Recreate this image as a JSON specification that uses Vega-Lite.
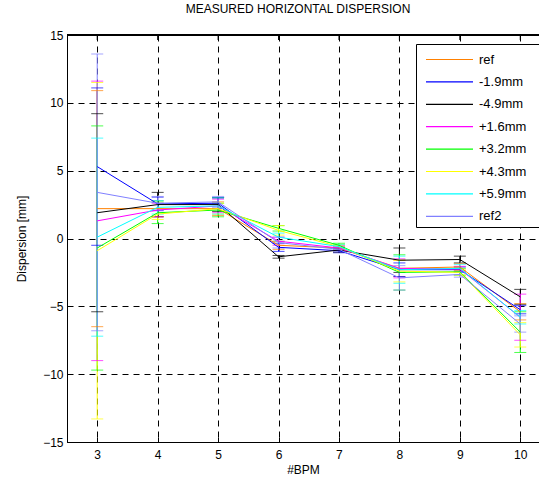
{
  "$schema": "https://vega.github.io/schema/vega-lite/v6.json",
  "width": 472,
  "height": 407,
  "autosize": {"type": "none"},
  "padding": {"left": 67, "top": 35, "right": 0, "bottom": 39},
  "background": "white",
  "title": {"text": "MEASURED HORIZONTAL DISPERSION", "font": "Liberation Sans", "fontSize": 12, "fontWeight": "normal", "color": "black", "offset": 13, "dx": -5},
  "config": {
    "view": {"stroke": "black", "strokeWidth": 1},
    "axis": {
      "domainColor": "black", "tickColor": "black", "labelColor": "black", "titleColor": "black",
      "labelFont": "Liberation Sans", "titleFont": "Liberation Sans", "labelFontSize": 12, "titleFontSize": 12,
      "titleFontWeight": "normal", "gridColor": "black", "gridDash": [6, 5], "gridOpacity": 1, "gridWidth": 1,
      "tickSize": 5
    },
    "legend": {"labelFont": "Liberation Sans", "labelFontSize": 13, "labelColor": "black"}
  },
  "datasets": {
    "top": [{"bpm": 3, "edge": 15}, {"bpm": 4, "edge": 15}, {"bpm": 5, "edge": 15}, {"bpm": 6, "edge": 15}, {"bpm": 7, "edge": 15}, {"bpm": 8, "edge": 15}, {"bpm": 9, "edge": 15}, {"bpm": 10, "edge": 15}]
  },
  "data": {"values": [
    {"bpm": 3, "series": "ref", "y": 2.2, "lo": -6.5, "hi": 10.9},
    {"bpm": 4, "series": "ref", "y": 2.2, "lo": 1.6, "hi": 2.8},
    {"bpm": 5, "series": "ref", "y": 2.2, "lo": 1.7, "hi": 2.7},
    {"bpm": 6, "series": "ref", "y": -0.5, "lo": -0.8, "hi": -0.2},
    {"bpm": 7, "series": "ref", "y": -0.7, "lo": -0.85, "hi": -0.55},
    {"bpm": 8, "series": "ref", "y": -2.2, "lo": -2.8, "hi": -1.6},
    {"bpm": 9, "series": "ref", "y": -2.1, "lo": -2.35, "hi": -1.85},
    {"bpm": 10, "series": "ref", "y": -5.4, "lo": -6.0, "hi": -4.8},
    {"bpm": 3, "series": "-1.9mm", "y": 5.3, "lo": -0.5, "hi": 11.1},
    {"bpm": 4, "series": "-1.9mm", "y": 2.55, "lo": 2.05, "hi": 3.05},
    {"bpm": 5, "series": "-1.9mm", "y": 2.6, "lo": 2.2, "hi": 3.0},
    {"bpm": 6, "series": "-1.9mm", "y": -0.65, "lo": -0.95, "hi": -0.35},
    {"bpm": 7, "series": "-1.9mm", "y": -0.9, "lo": -1.05, "hi": -0.75},
    {"bpm": 8, "series": "-1.9mm", "y": -2.3, "lo": -2.8, "hi": -1.8},
    {"bpm": 9, "series": "-1.9mm", "y": -2.3, "lo": -2.5, "hi": -2.1},
    {"bpm": 10, "series": "-1.9mm", "y": -5.25, "lo": -5.55, "hi": -4.95},
    {"bpm": 3, "series": "-4.9mm", "y": 1.9, "lo": -5.4, "hi": 9.2},
    {"bpm": 4, "series": "-4.9mm", "y": 2.5, "lo": 1.6, "hi": 3.4},
    {"bpm": 5, "series": "-4.9mm", "y": 2.5, "lo": 2.0, "hi": 3.0},
    {"bpm": 6, "series": "-4.9mm", "y": -1.35, "lo": -1.45, "hi": -1.25},
    {"bpm": 7, "series": "-4.9mm", "y": -0.85, "lo": -1.0, "hi": -0.7},
    {"bpm": 8, "series": "-4.9mm", "y": -1.6, "lo": -2.5, "hi": -0.7},
    {"bpm": 9, "series": "-4.9mm", "y": -1.55, "lo": -1.8, "hi": -1.3},
    {"bpm": 10, "series": "-4.9mm", "y": -4.3, "lo": -4.85, "hi": -3.75},
    {"bpm": 3, "series": "+1.6mm", "y": 1.3, "lo": -9.0, "hi": 11.6},
    {"bpm": 4, "series": "+1.6mm", "y": 2.1, "lo": 1.6, "hi": 2.6},
    {"bpm": 5, "series": "+1.6mm", "y": 2.4, "lo": 1.9, "hi": 2.9},
    {"bpm": 6, "series": "+1.6mm", "y": -0.2, "lo": -0.5, "hi": 0.1},
    {"bpm": 7, "series": "+1.6mm", "y": -0.7, "lo": -0.85, "hi": -0.55},
    {"bpm": 8, "series": "+1.6mm", "y": -2.2, "lo": -2.9, "hi": -1.5},
    {"bpm": 9, "series": "+1.6mm", "y": -2.25, "lo": -2.45, "hi": -2.05},
    {"bpm": 10, "series": "+1.6mm", "y": -5.8, "lo": -7.5, "hi": -4.1},
    {"bpm": 3, "series": "+3.2mm", "y": -0.7, "lo": -9.7, "hi": 8.3},
    {"bpm": 4, "series": "+3.2mm", "y": 1.9, "lo": 1.1, "hi": 2.7},
    {"bpm": 5, "series": "+3.2mm", "y": 2.1, "lo": 1.6, "hi": 2.6},
    {"bpm": 6, "series": "+3.2mm", "y": 0.75, "lo": 0.55, "hi": 0.95},
    {"bpm": 7, "series": "+3.2mm", "y": -0.5, "lo": -0.65, "hi": -0.35},
    {"bpm": 8, "series": "+3.2mm", "y": -2.5, "lo": -3.8, "hi": -1.2},
    {"bpm": 9, "series": "+3.2mm", "y": -2.45, "lo": -2.7, "hi": -2.2},
    {"bpm": 10, "series": "+3.2mm", "y": -6.9, "lo": -8.4, "hi": -5.4},
    {"bpm": 3, "series": "+4.3mm", "y": -0.9, "lo": -13.3, "hi": 11.5},
    {"bpm": 4, "series": "+4.3mm", "y": 1.8, "lo": 1.4, "hi": 2.2},
    {"bpm": 5, "series": "+4.3mm", "y": 2.2, "lo": 1.8, "hi": 2.6},
    {"bpm": 6, "series": "+4.3mm", "y": 0.6, "lo": 0.25, "hi": 0.95},
    {"bpm": 7, "series": "+4.3mm", "y": -0.6, "lo": -0.75, "hi": -0.45},
    {"bpm": 8, "series": "+4.3mm", "y": -2.4, "lo": -3.2, "hi": -1.6},
    {"bpm": 9, "series": "+4.3mm", "y": -2.5, "lo": -2.7, "hi": -2.3},
    {"bpm": 10, "series": "+4.3mm", "y": -7.1, "lo": -8.0, "hi": -6.2},
    {"bpm": 3, "series": "+5.9mm", "y": 0.1, "lo": -7.2, "hi": 7.4},
    {"bpm": 4, "series": "+5.9mm", "y": 2.3, "lo": 1.8, "hi": 2.8},
    {"bpm": 5, "series": "+5.9mm", "y": 2.4, "lo": 1.8, "hi": 3.0},
    {"bpm": 6, "series": "+5.9mm", "y": 0.1, "lo": -0.2, "hi": 0.4},
    {"bpm": 7, "series": "+5.9mm", "y": -0.6, "lo": -0.75, "hi": -0.45},
    {"bpm": 8, "series": "+5.9mm", "y": -2.3, "lo": -3.3, "hi": -1.3},
    {"bpm": 9, "series": "+5.9mm", "y": -2.2, "lo": -2.5, "hi": -1.9},
    {"bpm": 10, "series": "+5.9mm", "y": -5.8, "lo": -6.3, "hi": -5.3},
    {"bpm": 3, "series": "ref2", "y": 3.4, "lo": -6.8, "hi": 13.6},
    {"bpm": 4, "series": "ref2", "y": 2.6, "lo": 2.1, "hi": 3.1},
    {"bpm": 5, "series": "ref2", "y": 2.7, "lo": 2.3, "hi": 3.1},
    {"bpm": 6, "series": "ref2", "y": -0.3, "lo": -0.7, "hi": 0.1},
    {"bpm": 7, "series": "ref2", "y": -0.8, "lo": -0.95, "hi": -0.65},
    {"bpm": 8, "series": "ref2", "y": -2.9, "lo": -3.8, "hi": -2.0},
    {"bpm": 9, "series": "ref2", "y": -2.65, "lo": -2.85, "hi": -2.45},
    {"bpm": 10, "series": "ref2", "y": -6.3, "lo": -6.9, "hi": -5.7}
  ]},
  "layer": [
    {
      "mark": {"type": "rule", "strokeWidth": 1},
      "encoding": {
        "x": {"field": "bpm", "type": "quantitative", "title": "#BPM",
              "scale": {"domain": [2.5, 10.31], "nice": false, "zero": false},
              "axis": {"values": [3,4,5,6,7,8,9,10], "format": "d", "tickSize": -5, "labelPadding": 12, "titlePadding": 4, "grid": true}},
        "y": {"field": "lo", "type": "quantitative", "scale": {"domain": [-15, 15], "nice": false}, "title": "Dispersion [mm]",
              "axis": {"values": [-15,-10,-5,0,5,10,15], "format": "d", "tickSize": -5, "labelPadding": 9, "titlePadding": 14, "grid": true}},
        "y2": {"field": "hi"},
        "color": {"field": "series", "type": "nominal", "sort": null,
                  "scale": {"domain": ["ref", "-1.9mm", "-4.9mm", "+1.6mm", "+3.2mm", "+4.3mm", "+5.9mm", "ref2"],
                            "range": ["#FF8000", "#0000FF", "#000000", "#FF00FF", "#00FF00", "#FFFF00", "#00FFFF", "#8080FF"]},
                  "legend": {"orient": "none", "legendX": 349, "legendY": 9, "title": null, "symbolType": "M-2,0H2M8.5,0",
                             "symbolSize": 552, "symbolStrokeWidth": 1.2, "symbolOffset": 18, "strokeColor": "black", "fillColor": "white",
                             "padding": 3, "rowPadding": 2.4, "labelOffset": 17,
                             "encode": {"symbols": {"update": {"stroke": {"scale": "color", "field": "value"}, "fill": {"value": "transparent"}, "opacity": {"value": 1}, "strokeOpacity": {"value": 1}}}}}}
      }
    },
    {
      "mark": {"type": "tick", "orient": "horizontal", "size": 12, "thickness": 1},
      "encoding": {
        "x": {"field": "bpm", "type": "quantitative", "title": "#BPM"},
        "y": {"field": "lo", "type": "quantitative", "title": "Dispersion [mm]"},
        "color": {"field": "series", "type": "nominal", "sort": null}
      }
    },
    {
      "mark": {"type": "tick", "orient": "horizontal", "size": 12, "thickness": 1},
      "encoding": {
        "x": {"field": "bpm", "type": "quantitative", "title": "#BPM"},
        "y": {"field": "hi", "type": "quantitative", "title": "Dispersion [mm]"},
        "color": {"field": "series", "type": "nominal", "sort": null}
      }
    },
    {
      "mark": {"type": "line", "strokeWidth": 1},
      "encoding": {
        "x": {"field": "bpm", "type": "quantitative", "title": "#BPM"},
        "y": {"field": "y", "type": "quantitative", "title": "Dispersion [mm]"},
        "color": {"field": "series", "type": "nominal", "sort": null}
      }
    },
    {
      "data": {"name": "top"},
      "mark": {"type": "rule", "color": "#000000", "strokeWidth": 1.5, "opacity": 1},
      "encoding": {
        "y": {"field": "edge", "type": "quantitative", "title": "Dispersion [mm]"}
      }
    },
    {
      "data": {"name": "top"},
      "mark": {"type": "tick", "orient": "vertical", "color": "#000000", "size": 5, "thickness": 1, "yOffset": 2.5, "opacity": 1},
      "encoding": {
        "x": {"field": "bpm", "type": "quantitative", "title": "#BPM"},
        "y": {"field": "edge", "type": "quantitative", "title": "Dispersion [mm]"}
      }
    }
  ]
}
